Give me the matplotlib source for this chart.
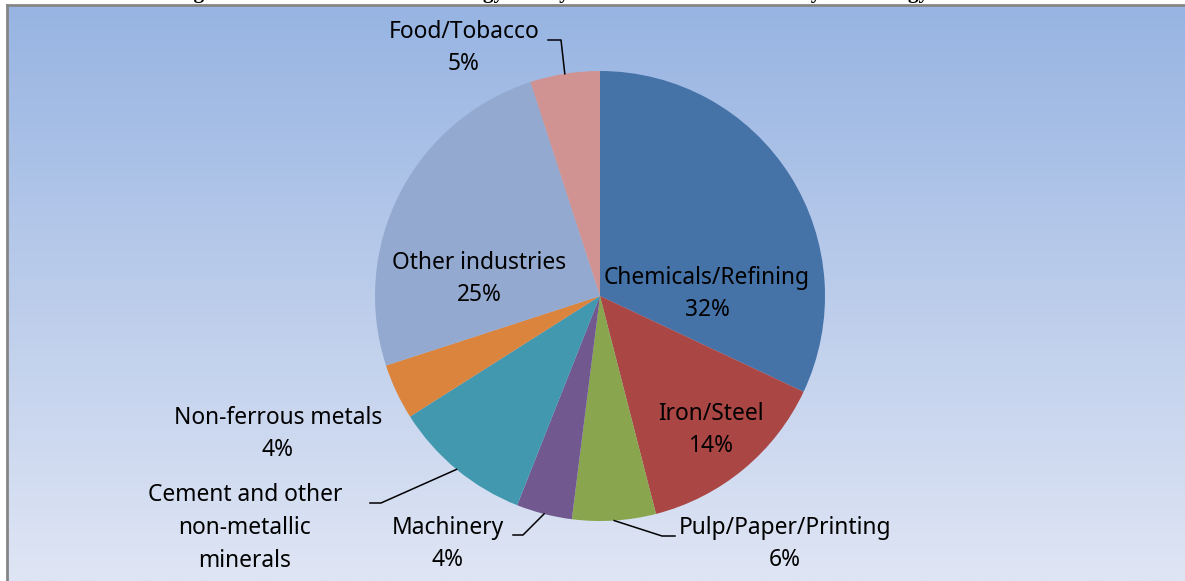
import numpy as np
import matplotlib.pyplot as plt

# share of industrial energy use by subsector (%)
sectors = ['Chemicals/Refining', 'Iron/Steel', 'Pulp/Paper/Printing', 'Machinery',
           'Cement and other\nnon-metallic\nminerals', 'Non-ferrous metals',
           'Other industries', 'Food/Tobacco']
shares = [32, 14, 6, 4, 10, 4, 25, 5]
colors = ['#4572A7', '#AA4643', '#89A54E', '#71588F',
          '#4198AF', '#DB843D', '#93A9CF', '#D19392']
# the cement percentage falls below the cropped bottom edge in the source
show_pct = [True, True, True, True, False, True, True, True]

title = 'Figure 5: Share of Industrial Energy Use by Subsector in Total Industry Net Energy'

W, H = 1185, 581
fig = plt.figure(figsize=(W / 100, H / 100), dpi=100)
fig.patch.set_facecolor('white')

# chart area with vertical gradient
bg = fig.add_axes([7 / W, 0, 1 - 7 / W, (H - 5) / H])
top = np.array([151, 180, 226]) / 255
bot = np.array([223, 229, 244]) / 255
t = np.linspace(0, 1, 256)[:, None]
grad = top[None, :] * (1 - t) + bot[None, :] * t
bg.imshow(grad[:, None, :], aspect='auto', extent=[0, 1, 0, 1], origin='upper')
bg.set_xticks([])
bg.set_yticks([])
for side in ['right', 'bottom']:
    bg.spines[side].set_visible(False)
for side in ['left', 'top']:
    bg.spines[side].set_color('#868686')
    bg.spines[side].set_linewidth(2)

# pie in pixel coordinates (y up)
ax = fig.add_axes([0, 0, 1, 1])
ax.patch.set_alpha(0)
cx, cy, r = 600, H - 296, 225
wedges, _ = ax.pie(shares, colors=colors, startangle=90, counterclock=False,
                   center=(cx, cy), radius=r)
ax.set_xlim(0, W)
ax.set_ylim(0, H)
ax.set_aspect('auto')
ax.axis('off')

font = dict(family='Noto Sans', fontsize=16.4, color='black', linespacing=1.49)

# label centre (x, y from top) and leader elbow points
labels = {
    0: (707, 294, None),
    1: (711, 430, None),
    2: (785, 544, [(662, 536), (675, 536)]),
    3: (448, 544, [(523, 535), (513, 535)]),
    4: (245, 528, [(381, 503), (370, 503)]),
    5: (278, 434, None),
    6: (479, 279, None),
    7: (464, 48, [(561, 40), (548, 40)]),
}
for i, (x, y, leader) in labels.items():
    txt = f'{sectors[i]}\n{shares[i]}%' if show_pct[i] else sectors[i]
    ax.text(x, H - y, txt, ha='center', va='center', **font)
    if leader:
        w = wedges[i]
        mid = np.deg2rad((w.theta1 + w.theta2) / 2)
        pts = [(cx + r * np.cos(mid), cy + r * np.sin(mid))]
        pts += [(px, H - py) for px, py in leader]
        xs, ys = zip(*pts)
        ax.plot(xs, ys, color='black', lw=1.1)

# title mostly cut off above the chart
fig.text(175 / W, 1 + 2 / H, title, ha='left', va='baseline',
         family='Liberation Serif', fontweight='bold', fontsize=15.2)

fig.savefig('out.png', dpi=100)
